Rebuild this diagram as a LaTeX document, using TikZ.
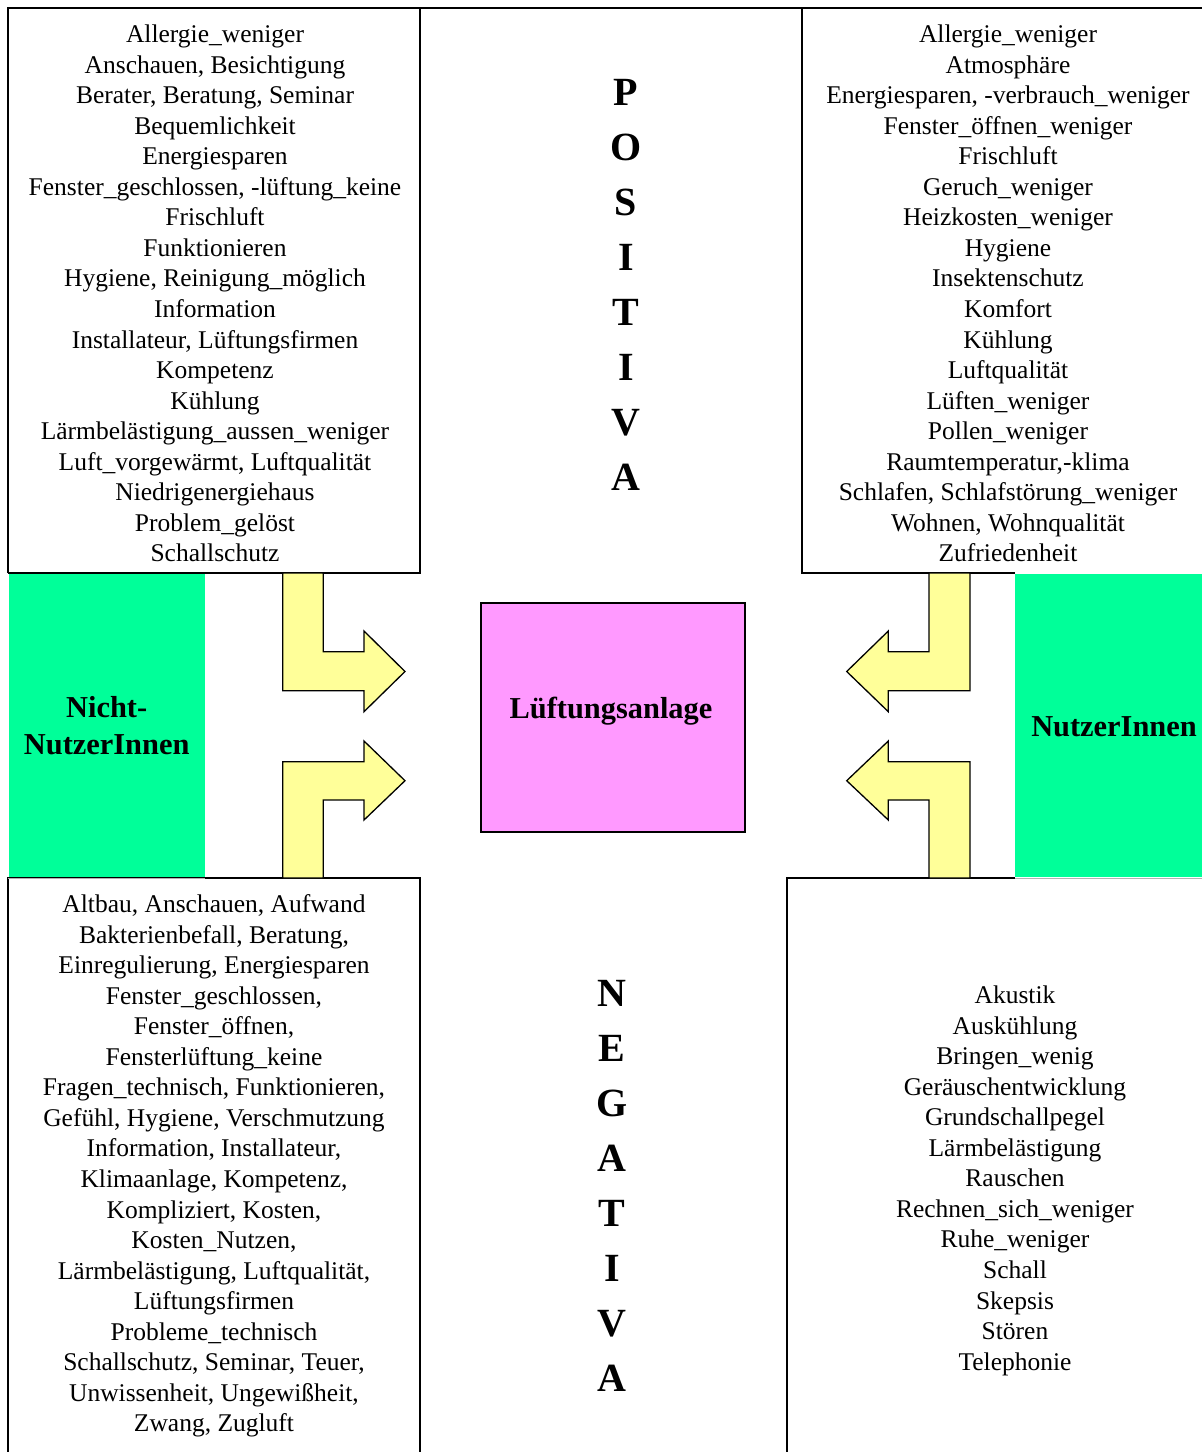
\documentclass[tikz,border=0pt]{standalone}
\usepackage{fontspec}
\setmainfont{Liberation Serif}
\definecolor{mint}{RGB}{0,255,153}
\definecolor{paleyellow}{RGB}{255,255,153}
\definecolor{pinkbox}{RGB}{255,153,255}
\begin{document}
\begin{tikzpicture}[x=1pt,y=-1pt,
  frame/.style={draw=black,line width=1.3pt},
  listtext/.style={anchor=north,inner sep=0pt,align=center,font=\fontsize{25.5}{30.53}\selectfont},
  bigword/.style={anchor=north,inner sep=0pt,align=center,font=\fontsize{40}{55}\selectfont\bfseries},
  grouplabel/.style={inner sep=0pt,align=center,font=\fontsize{30.4}{36.7}\selectfont\bfseries},
  groupbox/.style={fill=mint,draw=none},
  bigarrow/.style={fill=paleyellow,draw=black,line width=1.3pt,line join=miter}]
\useasboundingbox (0,0) rectangle (1202,1452);
\fill[white] (0,0) rectangle (1202,1452);
% table frame lines
\draw[frame] (8,1460) -- (8,878) -- (420,878) -- (420,1460);
\draw[frame] (787,1460) -- (787,878) -- (1015,878);
\draw[frame] (8,573) -- (8,8) -- (1210,8);
\draw[frame] (8,573) -- (420,573) -- (420,8);
\draw[frame] (1015,573) -- (802,573) -- (802,8);
% green group boxes
\fill[groupbox] (8.6,573.7) rectangle (205,877.3);
\fill[groupbox] (1015,573.7) rectangle (1202,877.3);
\draw[gray!60,line width=0.8pt] (8,878) -- (205,878) (1015,878) -- (1202,878);
\node[grouplabel,anchor=base] (nicht) at (106.7,754) {Nicht-\\NutzerInnen};
\node[grouplabel,anchor=base] (nutzer) at (1114,736) {NutzerInnen};
% central box
\node[draw=black,line width=1.3pt,fill=pinkbox,minimum width=264pt,minimum height=229pt,inner sep=0pt] (anlage) at (613,717.5) {};
\node[grouplabel,anchor=base] (anlagetext) at (611,718.3) {Lüftungsanlage};
% arrows
\draw[bigarrow] (282.7,573) -- (323.3,573) -- (323.3,651.7) -- (364,651.7) -- (364,631) -- (405,671.5) -- (364,711.7) -- (364,690.7) -- (282.7,690.7) -- cycle;
\draw[bigarrow] (282.7,878) -- (282.7,761.7) -- (364,761.7) -- (364,741) -- (405,780.7) -- (364,820) -- (364,800) -- (323.3,800) -- (323.3,878) -- cycle;
\draw[bigarrow] (929,573) -- (970,573) -- (970,690.7) -- (888.3,690.7) -- (888.3,711.7) -- (846.7,671.5) -- (888.3,631) -- (888.3,651.7) -- (929,651.7) -- cycle;
\draw[bigarrow] (970,878) -- (970,761.7) -- (888.3,761.7) -- (888.3,741) -- (846.7,780.7) -- (888.3,820) -- (888.3,800) -- (929,800) -- (929,878) -- cycle;
% vertical words
\node[bigword] (positiva) at (626,105.7-35) {\rule{0pt}{35pt}P\\O\\S\\I\\T\\I\\V\\A};
\node[bigword] (negativa) at (612,1006-35) {\rule{0pt}{35pt}N\\E\\G\\A\\T\\I\\V\\A};
% lists
\node[listtext] (posnicht) at (215,42.5-20) {\rule{0pt}{20pt}Allergie\_weniger\\
Anschauen, Besichtigung\\
Berater, Beratung, Seminar\\
Bequemlichkeit\\
Energiesparen\\
Fenster\_geschlossen, -lüftung\_keine\\
Frischluft\\
Funktionieren\\
Hygiene, Reinigung\_möglich\\
Information\\
Installateur, Lüftungsfirmen\\
Kompetenz\\
Kühlung\\
Lärmbelästigung\_aussen\_weniger\\
Luft\_vorgewärmt, Luftqualität\\
Niedrigenergiehaus\\
Problem\_gelöst\\
Schallschutz};
\node[listtext] (posnutzer) at (1008,42.5-20) {\rule{0pt}{20pt}Allergie\_weniger\\
Atmosphäre\\
Energiesparen, -verbrauch\_weniger\\
Fenster\_öffnen\_weniger\\
Frischluft\\
Geruch\_weniger\\
Heizkosten\_weniger\\
Hygiene\\
Insektenschutz\\
Komfort\\
Kühlung\\
Luftqualität\\
Lüften\_weniger\\
Pollen\_weniger\\
Raumtemperatur,-klima\\
Schlafen, Schlafstörung\_weniger\\
Wohnen, Wohnqualität\\
Zufriedenheit};
\node[listtext] (negnicht) at (214,912.5-20) {\rule{0pt}{20pt}Altbau, Anschauen, Aufwand\\
Bakterienbefall, Beratung,\\
Einregulierung, Energiesparen\\
Fenster\_geschlossen,\\
Fenster\_öffnen,\\
Fensterlüftung\_keine\\
Fragen\_technisch, Funktionieren,\\
Gefühl, Hygiene, Verschmutzung\\
Information, Installateur,\\
Klimaanlage, Kompetenz,\\
Kompliziert, Kosten,\\
Kosten\_Nutzen,\\
Lärmbelästigung, Luftqualität,\\
Lüftungsfirmen\\
Probleme\_technisch\\
Schallschutz, Seminar, Teuer,\\
Unwissenheit, Ungewißheit,\\
Zwang, Zugluft};
\node[listtext] (negnutzer) at (1015,1003.5-20) {\rule{0pt}{20pt}Akustik\\
Auskühlung\\
Bringen\_wenig\\
Geräuschentwicklung\\
Grundschallpegel\\
Lärmbelästigung\\
Rauschen\\
Rechnen\_sich\_weniger\\
Ruhe\_weniger\\
Schall\\
Skepsis\\
Stören\\
Telephonie};
\end{tikzpicture}
\end{document}
